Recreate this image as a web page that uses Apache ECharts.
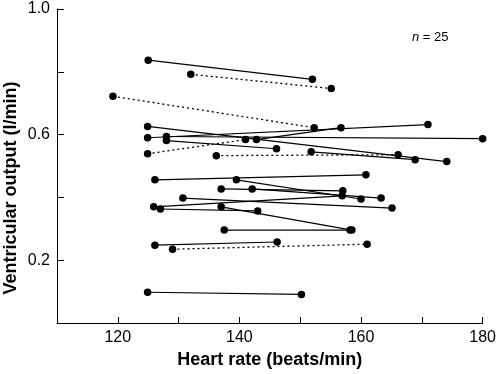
<!DOCTYPE html>
<html>
<head>
<meta charset="utf-8">
<script src="https://cdn.jsdelivr.net/npm/echarts@6/dist/echarts.min.js"></script>
<style>
html,body{margin:0;padding:0;background:#fff;}
#chart{width:499px;height:374px;}
</style>
</head>
<body>
<div id="chart"></div>
<script>
// Heart rate (beats/min) and ventricular output (l/min): first and second reading per subject
var hrStart = [125, 132, 119.2, 124.9, 128, 124.9, 142.8, 128, 124.9, 136.2, 151.8, 126.1, 139.5, 137, 142.1, 130.7, 125.9, 127, 137, 137.5, 126.1, 129, 124.9];
var hrEnd   = [152, 155.1, 152.3, 171, 180, 174.1, 156.7, 146.1, 141, 166.1, 168.9, 160.8, 160, 157, 163.3, 165.1, 156.9, 143, 158.5, 158.2, 146.2, 161, 150.2];
var voStart = [0.837, 0.792, 0.722, 0.590, 0.594, 0.626, 0.584, 0.581, 0.539, 0.533, 0.545, 0.456, 0.456, 0.427, 0.427, 0.398, 0.370, 0.363, 0.370, 0.296, 0.248, 0.235, 0.098];
var voEnd   = [0.776, 0.747, 0.622, 0.632, 0.587, 0.514, 0.622, 0.555, 0.584, 0.536, 0.520, 0.472, 0.395, 0.421, 0.398, 0.366, 0.405, 0.357, 0.296, 0.296, 0.258, 0.251, 0.091];
var dotted  = [false, true, true, false, false, false, false, false, true, true, false, false, false, false, false, false, false, false, false, false, false, true, false];
var xTickLabels = [120, 140, 160, 180];
var yTickLabels = [0.2, 0.6, 1.0];

var series = [];
for (var i = 0; i < hrStart.length; i++) {
  series.push({
    type: 'line',
    data: [[hrStart[i], voStart[i]], [hrEnd[i], voEnd[i]]],
    symbol: 'circle',
    symbolSize: 7.5,
    itemStyle: {color: '#000'},
    lineStyle: {color: '#000', width: dotted[i] ? 1.3 : 1.2, type: dotted[i] ? [2, 3] : 'solid'},
    emphasis: {disabled: true},
    silent: true,
    z: 2
  });
}

var chart = echarts.init(document.getElementById('chart'));
chart.setOption({
  animation: false,
  backgroundColor: '#fff',
  grid: {left: 57, right: 15, top: 9, bottom: 51, containLabel: false},
  xAxis: {
    type: 'value', min: 110, max: 180, interval: 10,
    name: 'Heart rate (beats/min)', nameLocation: 'middle', nameGap: 25,
    nameTextStyle: {fontFamily: 'Liberation Sans', fontWeight: 'bold', fontSize: 18, color: '#000'},
    axisLine: {show: true, lineStyle: {color: '#000', width: 1}},
    axisTick: {show: true, inside: true, length: 6, lineStyle: {color: '#000'}},
    axisLabel: {
      margin: 7, fontFamily: 'Liberation Sans', fontSize: 16, color: '#000',
      formatter: function (v) { return xTickLabels.indexOf(v) >= 0 ? String(v) : ''; }
    },
    splitLine: {show: false}
  },
  yAxis: {
    type: 'value', min: 0, max: 1.0, interval: 0.2,
    axisLine: {show: true, lineStyle: {color: '#000', width: 1}},
    axisTick: {show: true, inside: true, length: 7, lineStyle: {color: '#000'}},
    axisLabel: {
      margin: 7, fontFamily: 'Liberation Sans', fontSize: 16, color: '#000',
      formatter: function (v) {
        for (var k = 0; k < yTickLabels.length; k++) {
          if (Math.abs(v - yTickLabels[k]) < 1e-6) return yTickLabels[k].toFixed(1);
        }
        return '';
      }
    },
    splitLine: {show: false}
  },
  graphic: [
    {
      type: 'text', rotation: Math.PI / 2,
      x: 2, y: 188,
      style: {text: 'Ventricular output (l/min)', font: 'bold 18px "Liberation Sans"', fill: '#000', textAlign: 'center', textVerticalAlign: 'top'}
    },
    {
      type: 'text', x: 412, y: 31,
      style: {rich: {i: {fontStyle: 'italic', fontFamily: 'Liberation Sans', fontSize: 13}, n: {fontFamily: 'Liberation Sans', fontSize: 13}}, text: '{i|n}{n| = 25}', fill: '#000'}
    }
  ],
  series: series
});
</script>
</body>
</html>
